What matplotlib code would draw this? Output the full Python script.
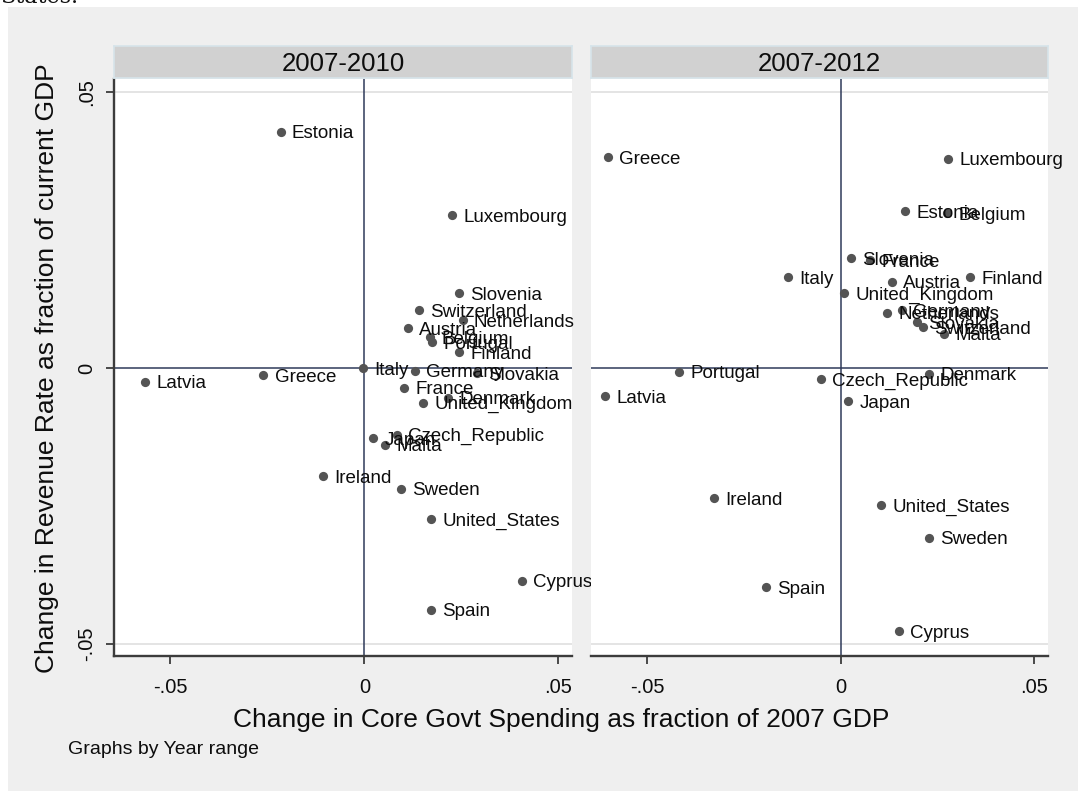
import matplotlib
matplotlib.use("Agg")
import matplotlib.pyplot as plt
from matplotlib.patches import Rectangle

plt.rcParams['font.family'] = ['Liberation Sans', 'DejaVu Sans']

# 2007-2010 panel
countries_2010 = ["Estonia", "Luxembourg", "Slovenia", "Switzerland", "Netherlands",
                  "Austria", "Belgium", "Portugal", "Finland", "Italy", "Germany",
                  "Slovakia", "France", "United_Kingdom", "Denmark", "Greece", "Latvia",
                  "Japan", "Malta", "Czech_Republic", "Ireland", "Sweden",
                  "United_States", "Cyprus", "Spain"]
spend_2010 = [-0.0216, 0.0227, 0.0245, 0.0142, 0.0253,
              0.0113, 0.0170, 0.0175, 0.0245, -0.0003, 0.0131,
              0.0291, 0.0103, 0.0152, 0.0216, -0.0260, -0.0564,
              0.0023, 0.0054, 0.0085, -0.0106, 0.0095,
              0.0173, 0.0405, 0.0173]
rev_2010 = [0.0428, 0.0277, 0.0136, 0.0105, 0.0087,
            0.0072, 0.0056, 0.0047, 0.0029, 0.0000, -0.0005,
            -0.0009, -0.0036, -0.0063, -0.0054, -0.0013, -0.0025,
            -0.0127, -0.0139, -0.0121, -0.0196, -0.0219,
            -0.0274, -0.0386, -0.0438]

# 2007-2012 panel
countries_2012 = ["Greece", "Luxembourg", "Estonia", "Belgium", "Slovenia", "France",
                  "Italy", "Finland", "Austria", "United_Kingdom", "Netherlands",
                  "Germany", "Slovakia", "Switzerland", "Malta", "Portugal", "Latvia",
                  "Czech_Republic", "Denmark", "Japan", "Ireland", "United_States",
                  "Sweden", "Spain", "Cyprus"]
spend_2012 = [-0.0602, 0.0278, 0.0166, 0.0275, 0.0027, 0.0076,
              -0.0137, 0.0334, 0.0132, 0.0009, 0.0120,
              0.0159, 0.0197, 0.0213, 0.0267, -0.0418, -0.0609,
              -0.0051, 0.0228, 0.0019, -0.0328, 0.0104,
              0.0228, -0.0193, 0.0151]
rev_2012 = [0.0382, 0.0379, 0.0284, 0.0281, 0.0199, 0.0195,
            0.0165, 0.0165, 0.0156, 0.0136, 0.0100,
            0.0105, 0.0083, 0.0074, 0.0062, -0.0007, -0.0051,
            -0.0020, -0.0010, -0.0060, -0.0236, -0.0248,
            -0.0308, -0.0397, -0.0477]

panel_titles = ["2007-2010", "2007-2012"]
tick_vals = [-0.05, 0, 0.05]
tick_labels = ["-.05", "0", ".05"]

W, H = 1078, 791
fig = plt.figure(figsize=(W / 100, H / 100), dpi=100)
fig.patch.set_facecolor("white")

# graph region background
fig.add_artist(Rectangle((8 / W, 0), 1 - 8 / W, 1 - 7 / H, transform=fig.transFigure,
                         facecolor="#efefef", edgecolor="none", zorder=0))

# clipped line of body text above the figure
fig.text(0.0, 1 - 3 / H, "States.", family="DejaVu Serif", fontsize=16,
         ha="left", va="baseline", color="#111111")

def px_box(x0, y0, x1, y1):
    return [x0 / W, 1 - y1 / H, (x1 - x0) / W, (y1 - y0) / H]

panels = [
    (px_box(114, 79, 572, 656), px_box(114, 46, 572, 78),
     countries_2010, spend_2010, rev_2010, True),
    (px_box(591, 79, 1048, 656), px_box(591, 46, 1048, 78),
     countries_2012, spend_2012, rev_2012, False),
]

axis_col = "#3c3c3c"
ref_col = "#2f3a5a"
txt_col = "#0d0d0d"

for (box, sbox, names, xs, ys, show_y), title in zip(panels, panel_titles):
    ax = fig.add_axes(box)
    ax.set_facecolor("white")
    ax.set_xlim(-0.0645, 0.0535)
    ax.set_ylim(-0.0522, 0.0524)

    for s in ["top", "right"]:
        ax.spines[s].set_visible(False)
    ax.spines["bottom"].set_color(axis_col)
    ax.spines["bottom"].set_linewidth(1.7)
    if show_y:
        ax.spines["left"].set_color(axis_col)
        ax.spines["left"].set_linewidth(1.7)
    else:
        ax.spines["left"].set_visible(False)

    for g in (-0.05, 0.05):
        ax.axhline(g, color="#e2e2e2", lw=1.3, zorder=1)
    ax.axhline(0, color=ref_col, lw=1.1, zorder=2)
    ax.axvline(0, color=ref_col, lw=1.1, zorder=2)

    ax.scatter(xs, ys, s=44, color="#545454", zorder=3, linewidths=0)
    for n, x, y in zip(names, xs, ys):
        ax.annotate(n, (x, y), xytext=(8, 0), textcoords="offset points",
                    ha="left", va="center_baseline", fontsize=13.5,
                    color=txt_col, zorder=4, annotation_clip=False)

    ax.set_xticks(tick_vals)
    ax.set_xticklabels(tick_labels)
    ax.tick_params(axis="x", length=6, width=1.3, color=axis_col, pad=10,
                   labelsize=14.5, labelcolor=txt_col)
    if show_y:
        ax.set_yticks(tick_vals)
        ax.set_yticklabels(tick_labels, rotation=90, va="center")
        ax.tick_params(axis="y", length=6, width=1.3, color=axis_col, pad=7,
                       labelsize=14.5, labelcolor=txt_col)
    else:
        ax.set_yticks([])

    sax = fig.add_axes(sbox)
    sax.set_facecolor("#d1d1d1")
    for s in sax.spines.values():
        s.set_color("#d6e4ea")
        s.set_linewidth(1.2)
    sax.set_xticks([])
    sax.set_yticks([])
    sax.text(0.5, 0.45, title, ha="center", va="center", fontsize=18.5,
             color=txt_col, transform=sax.transAxes)

fig.text(561 / W, 1 - 720 / H, "Change in Core Govt Spending as fraction of 2007 GDP",
         ha="center", va="center", fontsize=19, color=txt_col)
fig.text(47 / W, 1 - 368 / H, "Change in Revenue Rate as fraction of current GDP",
         ha="center", va="center", rotation=90, fontsize=19, color=txt_col)
fig.text(68 / W, 1 - 750 / H, "Graphs by Year range", ha="left", va="center",
         fontsize=14, color=txt_col)

fig.savefig("out.png", dpi=100)
